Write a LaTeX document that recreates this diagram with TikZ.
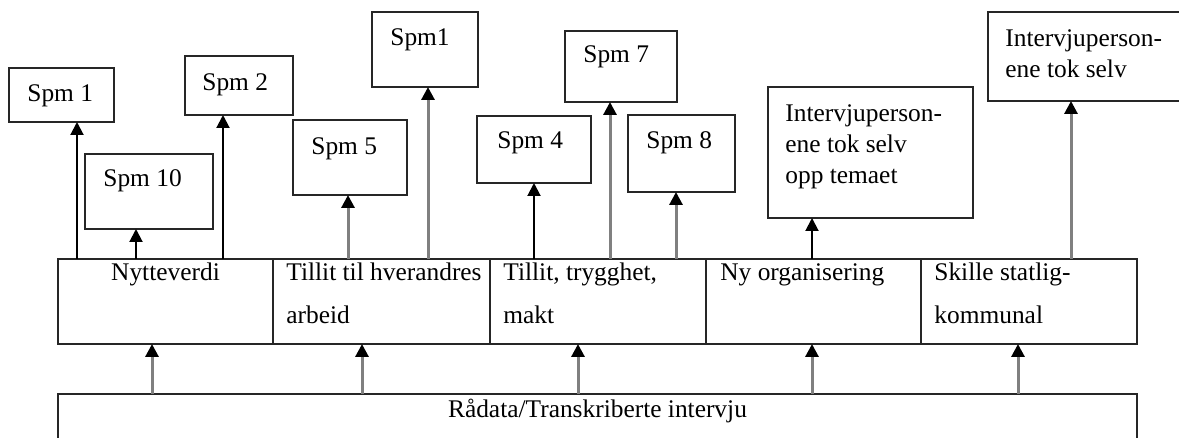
\documentclass[tikz,border=0pt]{standalone}
\usepackage{fontspec}
\setmainfont{Liberation Serif}
\usetikzlibrary{positioning,fit,arrows.meta}

\begin{document}
\begin{tikzpicture}[
    x=0.5pt, y=-0.5pt,
    font=\fontsize{12.7}{15.5}\selectfont,
    box/.style={rectangle, draw=black!85, line width=1pt, inner sep=0pt, outer sep=0pt},
    cell/.style={box, anchor=north west, minimum height=42.5pt},
    txt/.style={anchor=base west, inner sep=0pt, align=left},
    celltxt/.style={txt, font=\fontsize{12.7}{21.5}\selectfont},
    darrow/.style={line width=1pt, black, -{Triangle[width=6.5pt,length=6.5pt]}},
    garrow/.style={line width=1.5pt, gray, -{Triangle[width=6.5pt,length=6.5pt,black]}}
]
    \useasboundingbox (0,0) rectangle (1179,438);
    \clip (0,0) rectangle (1179,438);

    % questions and remarks on top
    \node[box, fit={(9,68) (114,122)}]    (spmA) {};
    \node[box, fit={(85,154) (213,229)}]  (spmJ) {};
    \node[box, fit={(185,56) (293,115)}]  (spmB) {};
    \node[box, fit={(293,120) (407,195)}] (spmE) {};
    \node[box, fit={(372,12) (478,87)}]   (spmAA) {};
    \node[box, fit={(477,116) (591,183)}] (spmD) {};
    \node[box, fit={(565,31) (677,102)}]  (spmG) {};
    \node[box, fit={(628,115) (735,192)}] (spmH) {};
    \node[box, fit={(768,87) (973,218)}]  (selvA) {};
    \node[box, fit={(988,12) (1200,101)}] (selvB) {};

    % (base of a multi-line text is its last line)
    \node[txt] (spmAtxt)  at (27,102)  {Spm 1};
    \node[txt] (spmJtxt)  at (103,187) {Spm 10};
    \node[txt] (spmBtxt)  at (202,91)  {Spm 2};
    \node[txt] (spmEtxt)  at (311,155) {Spm 5};
    \node[txt] (spmAAtxt) at (390,46)  {Spm1};
    \node[txt] (spmDtxt)  at (497,149) {Spm 4};
    \node[txt] (spmGtxt)  at (583,63)  {Spm 7};
    \node[txt] (spmHtxt)  at (646,149) {Spm 8};
    \node[txt] (selvAtxt) at (785,184) {Intervjuperson-\\ene tok selv\\opp temaet};
    \node[txt] (selvBtxt) at (1005,78) {Intervjuperson-\\ene tok selv};

    % themes
    \node[cell, minimum width=107.5pt] (nytte) at (58,259) {};
    \node[cell, minimum width=108.5pt, right=0pt of nytte]  (hverandre) {};
    \node[cell, minimum width=108pt, right=0pt of hverandre] (trygghet) {};
    \node[cell, minimum width=107.5pt, right=0pt of trygghet] (organ) {};
    \node[cell, minimum width=108pt, right=0pt of organ]     (skille) {};

    \node[anchor=base, inner sep=0pt] (nyttetxt) at (165.5,281) {Nytteverdi};
    \node[celltxt] (hverandretxt) at (286,324) {Tillit til hverandres\\arbeid};
    \node[celltxt] (trygghettxt)  at (503,324) {Tillit, trygghet,\\makt};
    \node[celltxt] (organtxt)     at (720,281) {Ny organisering};
    \node[celltxt] (skilletxt)    at (934,324) {Skille statlig-\\kommunal};

    % raw data
    \node[box, fit={(58,394) (1137,470)}] (raw) {};
    \node[anchor=base, inner sep=0pt] (rawtxt) at (597.5,417) {Rådata/Transkriberte intervju};

    \draw[garrow] (raw.north -| 152,0)  -- (nytte.south -| 152,0);
    \draw[garrow] (raw.north -| 362,0)  -- (hverandre.south -| 362,0);
    \draw[garrow] (raw.north -| 578,0)  -- (trygghet.south -| 578,0);
    \draw[garrow] (raw.north -| 812,0)  -- (organ.south -| 812,0);
    \draw[garrow] (raw.north -| 1018,0) -- (skille.south -| 1018,0);

    \draw[darrow] (nytte.north -| 77,0)  -- (spmA.south -| 77,0);
    \draw[darrow] (nytte.north -| 136,0) -- (spmJ.south -| 136,0);
    \draw[darrow] (nytte.north -| 223,0) -- (spmB.south -| 223,0);
    \draw[garrow] (hverandre.north -| 348,0) -- (spmE.south -| 348,0);
    \draw[garrow] (hverandre.north -| 428,0) -- (spmAA.south -| 428,0);
    \draw[darrow] (trygghet.north -| 534,0) -- (spmD.south -| 534,0);
    \draw[garrow] (trygghet.north -| 610,0) -- (spmG.south -| 610,0);
    \draw[garrow] (trygghet.north -| 676,0) -- (spmH.south -| 676,0);
    \draw[darrow] (organ.north -| 812,0)  -- (selvA.south -| 812,0);
    \draw[garrow] (skille.north -| 1071,0) -- (selvB.south -| 1071,0);
\end{tikzpicture}
\end{document}
